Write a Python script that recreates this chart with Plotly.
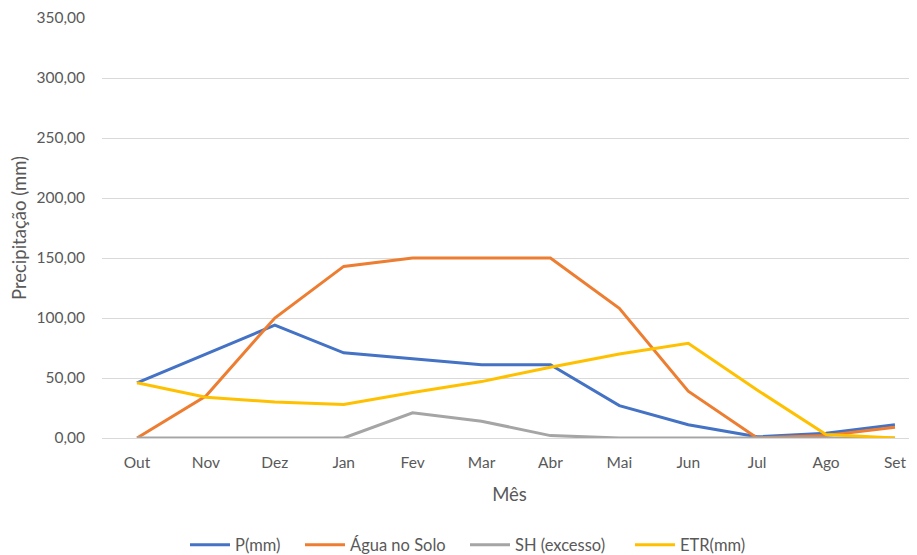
import plotly.graph_objects as go

meses = ["Out", "Nov", "Dez", "Jan", "Fev", "Mar", "Abr", "Mai", "Jun", "Jul", "Ago", "Set"]
p_mm = [46, 70, 94, 71, 66, 61, 61, 27, 11, 1, 4, 11]
agua_solo = [0, 35, 100, 143, 150, 150, 150, 108, 39, 0, 2, 9]
sh_excesso = [0, 0, 0, 0, 21, 14, 2, 0, 0, 0, 0, 0]
etr_mm = [46, 34, 30, 28, 38, 47, 59, 70, 79, 40, 3, 0]
y_ticks = [0, 50, 100, 150, 200, 250, 300, 350]

series = [
    ("P(mm)", p_mm, "#4472C4"),
    ("Água no Solo", agua_solo, "#ED7D31"),
    ("SH (excesso)", sh_excesso, "#A5A5A5"),
    ("ETR(mm)", etr_mm, "#FFC000"),
]

# page starts 8px in (body margin); figure is sized/offset to compensate
W, H = 909, 547
L, R, T, B = 94, 0, 10, 117
plot_w = W - L - R
legend_page_x = [190, 305, 470, 635]  # left edge of each legend line in page px

fig = go.Figure()
legend_layout = {}
font_family = "Lato, 'Open Sans', sans-serif"
for i, (name, vals, color) in enumerate(series):
    key = "legend" if i == 0 else f"legend{i+1}"
    fig.add_trace(go.Scatter(
        x=meses, y=vals, name=name, mode="lines",
        line=dict(color=color, width=3), legend=key,
    ))
    legend_layout[key] = dict(
        orientation="h", x=(legend_page_x[i] - 8 - L - 5) / plot_w, xanchor="left",
        y=-0.255, yanchor="middle", itemwidth=40, bgcolor="rgba(0,0,0,0)",
        font=dict(family=font_family, size=16.5, color="#595959"),
    )

fig.update_layout(
    width=W, height=H,
    margin=dict(l=L, r=R, t=T, b=B, autoexpand=False),
    paper_bgcolor="white", plot_bgcolor="white",
    separators=",.",
    font=dict(family=font_family, size=15.5, color="#595959"),
    showlegend=True,
    xaxis=dict(
        range=[-0.508, 11.32], showgrid=False, showline=True, linecolor="#D9D9D9",
        ticks="", tickfont=dict(size=15.5, color="#595959"), automargin=False,
        ticklabelstandoff=10,
        title=dict(text="Mês", font=dict(size=18.5, color="#595959"), standoff=18),
        zeroline=False,
    ),
    yaxis=dict(
        range=[0, 350], tickvals=y_ticks, tickformat=".2f", automargin=False,
        showgrid=True, gridcolor="#D9D9D9", gridwidth=1, zeroline=False,
        showline=False, ticks="", ticklen=0, ticklabelstandoff=16,
        tickfont=dict(size=15.5, color="#595959"),
        title=dict(text="Precipitação (mm)", font=dict(size=18.5, color="#595959"), standoff=10),
    ),
    **legend_layout,
)

fig.write_html("out.html")
